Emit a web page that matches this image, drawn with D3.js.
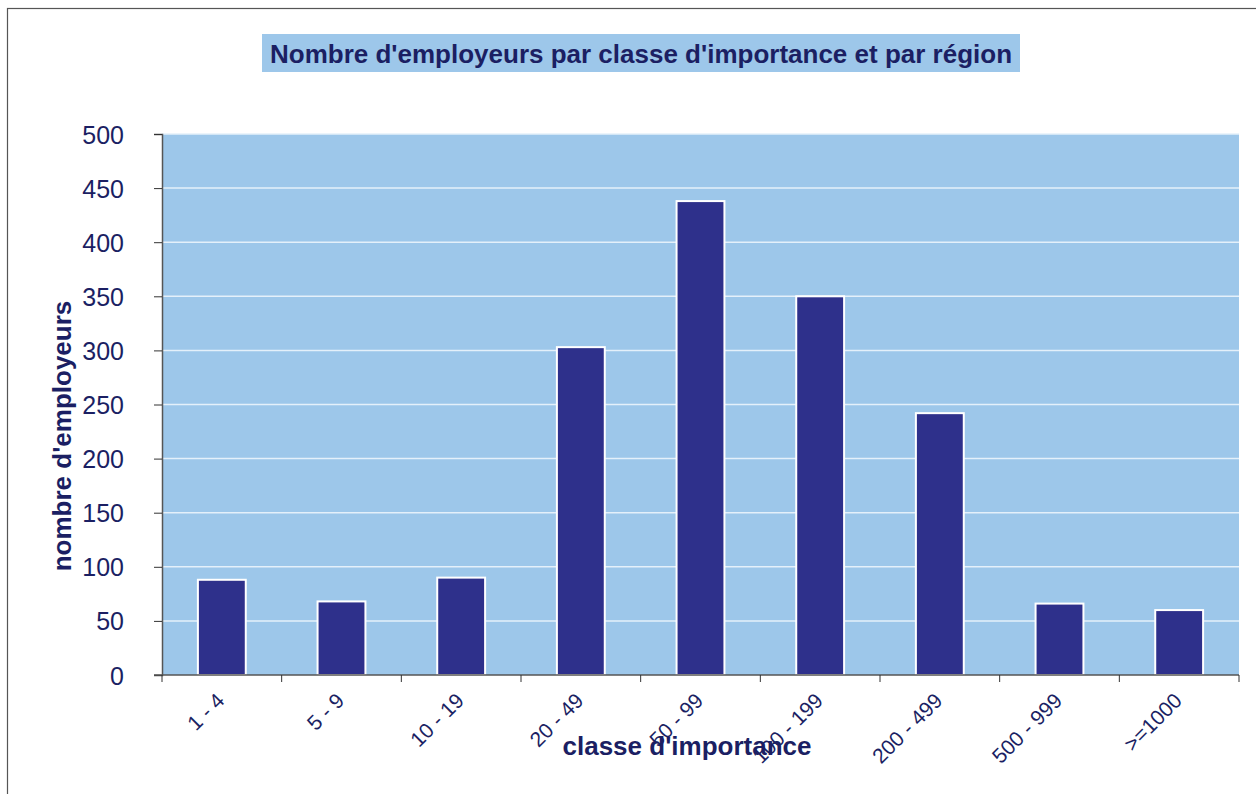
<html>
  <head>
    <style>
      body { margin: 0; background: #fff; }
      text { font-family: "Liberation Sans", Arial, sans-serif; fill: #1b1f63; }
      .tick-y { font-size: 25px; }
      .tick-x { font-size: 21px; }
      .axis-title { font-size: 26px; font-weight: bold; }
      .title-text { font-size: 26px; font-weight: bold; }
    </style>
  </head>
  <body>
    <div id="chart"></div>
    <script src="https://d3js.org/d3.v7.min.js"></script>
    <script>
      var categories = ["1 - 4", "5 - 9", "10 - 19", "20 - 49", "50 - 99", "100 - 199", "200 - 499", "500 - 999", ">=1000"];
      var employeurs = [88, 68, 90, 303, 438, 350, 242, 66, 60];
      var yTicks = [0, 50, 100, 150, 200, 250, 300, 350, 400, 450, 500];

      var width = 1256, height = 794;
      var plotLeft = 162, plotRight = 1239, plotTop = 134, plotBottom = 675;

      var svg = d3.select("#chart").append("svg")
        .attr("width", width)
        .attr("height", height);

      // outer frame
      svg.append("rect")
        .attr("x", 7.5).attr("y", 8.5)
        .attr("width", 1270).attr("height", 800)
        .attr("fill", "none").attr("stroke", "#555").attr("stroke-width", 1.2);

      // title
      svg.append("rect")
        .attr("x", 262).attr("y", 34)
        .attr("width", 758).attr("height", 38)
        .attr("fill", "#9dc7ea");
      svg.append("text")
        .attr("class", "title-text")
        .attr("x", 641).attr("y", 63)
        .attr("text-anchor", "middle")
        .text("Nombre d'employeurs par classe d'importance et par région");

      var x = d3.scaleBand()
        .domain(categories)
        .range([plotLeft, plotRight])
        .paddingInner(0.6)
        .paddingOuter(0.3);

      var y = d3.scaleLinear()
        .domain([0, 500])
        .range([plotBottom, plotTop]);

      // plot background
      svg.append("rect")
        .attr("x", plotLeft).attr("y", plotTop)
        .attr("width", plotRight - plotLeft).attr("height", plotBottom - plotTop)
        .attr("fill", "#9dc7ea");

      // gridlines
      svg.append("g").selectAll("line")
        .data(yTicks.filter(function(d) { return d > 0; }))
        .enter().append("line")
        .attr("x1", plotLeft).attr("x2", plotRight)
        .attr("y1", function(d) { return y(d); })
        .attr("y2", function(d) { return y(d); })
        .attr("stroke", "#e4f0fa").attr("stroke-width", 1.5);

      // bars
      svg.append("g").selectAll("rect")
        .data(employeurs)
        .enter().append("rect")
        .attr("x", function(d, i) { return x(categories[i]); })
        .attr("y", function(d) { return y(d); })
        .attr("width", x.bandwidth())
        .attr("height", function(d) { return plotBottom - y(d); })
        .attr("fill", "#2e308b")
        .attr("stroke", "#fff")
        .attr("stroke-width", 2);

      // y axis
      var yAxis = svg.append("g")
        .attr("transform", "translate(" + plotLeft + ",0)")
        .call(d3.axisLeft(y).tickValues(yTicks).tickSize(8).tickPadding(30));
      yAxis.select(".domain").attr("stroke", "#555").attr("stroke-width", 1.5);
      yAxis.selectAll(".tick line").attr("stroke", "#333");
      yAxis.selectAll(".tick text")
        .attr("class", "tick-y")
        .attr("fill", "#1b1f63")
        .attr("dy", "0.36em");
      yAxis.attr("font-family", null).attr("font-size", null);

      // x axis: ticks at category boundaries
      var bounds = d3.range(categories.length + 1).map(function(i) {
        return plotLeft + i * (plotRight - plotLeft) / categories.length;
      });
      var xAxis = svg.append("g");
      xAxis.append("line")
        .attr("x1", plotLeft - 8).attr("x2", plotRight)
        .attr("y1", plotBottom).attr("y2", plotBottom)
        .attr("stroke", "#555").attr("stroke-width", 1.5);
      xAxis.selectAll(".bt")
        .data(bounds)
        .enter().append("line")
        .attr("x1", function(d) { return d; }).attr("x2", function(d) { return d; })
        .attr("y1", plotBottom).attr("y2", plotBottom + 7)
        .attr("stroke", "#333");
      xAxis.selectAll(".tick-x")
        .data(categories)
        .enter().append("text")
        .attr("class", "tick-x")
        .attr("text-anchor", "end")
        .attr("transform", function(d) {
          return "translate(" + (x(d) + x.bandwidth() / 2 + 4) + "," + (plotBottom + 27) + ") rotate(-45)";
        })
        .text(function(d) { return d; });

      // axis titles
      svg.append("text")
        .attr("class", "axis-title")
        .attr("text-anchor", "middle")
        .attr("transform", "translate(71,436) rotate(-90)")
        .text("nombre d'employeurs");

      svg.append("text")
        .attr("class", "axis-title")
        .attr("text-anchor", "middle")
        .attr("x", 687).attr("y", 755)
        .text("classe d'importance");
    </script>
  </body>
</html>
